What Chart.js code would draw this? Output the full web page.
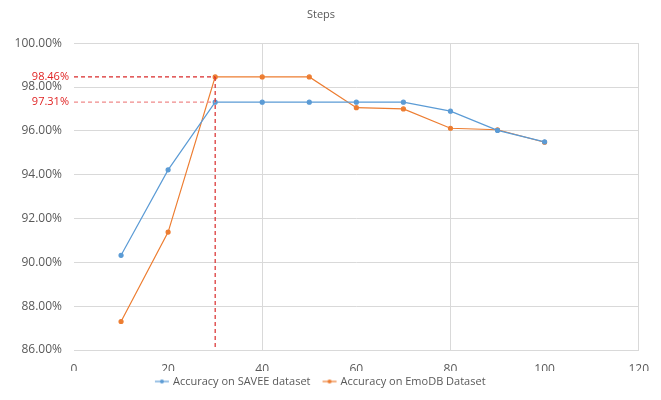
<!DOCTYPE html>
<html lang="en">
<head>
  <meta charset="UTF-8" />
  <title>Steps</title>
  <script src="https://cdn.jsdelivr.net/npm/chart.js"></script>
  <style>
    html, body { margin: 0; padding: 0; background: #fff; }
    #wrap { width: 661px; height: 400px; position: relative; }
  </style>
</head>
<body>
  <div id="wrap"><canvas id="grafico"></canvas></div>

  <script>
    const steps = [10, 20, 30, 40, 50, 60, 70, 80, 90, 100];
    const saveeAcc = [90.32, 94.22, 97.31, 97.31, 97.31, 97.31, 97.31, 96.90, 96.02, 95.50];
    const emodbAcc = [87.30, 91.38, 98.46, 98.46, 98.46, 97.06, 97.00, 96.12, 96.05, 95.48];
    const seriesNames = ['Accuracy on SAVEE dataset', 'Accuracy on EmoDB Dataset'];
    const marks = [
      { step: 30, value: 98.46, label: '98.46%' },
      { step: 30, value: 97.31, label: '97.31%' }
    ];

    const azul = '#5B9BD5';
    const naranja = '#ED7D31';
    const fuente = "'Open Sans', sans-serif";

    function icono(color) {
      const c = document.createElement('canvas');
      c.width = 16; c.height = 8;
      const ctx = c.getContext('2d');
      ctx.strokeStyle = color; ctx.lineWidth = 1.2;
      ctx.beginPath(); ctx.moveTo(1, 4); ctx.lineTo(15, 4); ctx.stroke();
      ctx.fillStyle = color;
      ctx.beginPath(); ctx.arc(8, 4, 2, 0, Math.PI * 2); ctx.fill();
      return c;
    }

    const marcas = {
      id: 'marcas',
      afterDatasetsDraw(chart) {
        const { ctx, scales: { x, y } } = chart;
        ctx.save();
        marks.forEach((m, i) => {
          const px = x.getPixelForValue(m.step);
          const py = y.getPixelForValue(m.value);
          ctx.setLineDash([4, 3]);
          ctx.lineWidth = 1.2;
          ctx.strokeStyle = i === 0 ? '#d92b2b' : '#ef8a8a';
          ctx.beginPath(); ctx.moveTo(x.left, py); ctx.lineTo(px, py); ctx.stroke();
          if (i === 0) {
            ctx.beginPath(); ctx.moveTo(px, py); ctx.lineTo(px, y.bottom); ctx.stroke();
          }
          ctx.setLineDash([]);
          ctx.fillStyle = '#e02424';
          ctx.font = '11px ' + fuente;
          ctx.textAlign = 'right';
          ctx.textBaseline = 'middle';
          ctx.fillText(m.label, x.left - 5, py);
        });
        ctx.restore();
      }
    };

    new Chart(document.getElementById('grafico'), {
      type: 'line',
      data: {
        datasets: [
          {
            label: seriesNames[0],
            data: steps.map((s, i) => ({ x: s, y: saveeAcc[i] })),
            borderColor: azul,
            backgroundColor: azul,
            borderWidth: 1.2,
            pointRadius: 2,
            pointStyle: 'circle',
            pointHoverRadius: 2
          },
          {
            label: seriesNames[1],
            data: steps.map((s, i) => ({ x: s, y: emodbAcc[i] })),
            borderColor: naranja,
            backgroundColor: naranja,
            borderWidth: 1.2,
            pointRadius: 2,
            pointStyle: 'circle',
            pointHoverRadius: 2
          }
        ]
      },
      options: {
        responsive: true,
        maintainAspectRatio: false,
        animation: false,
        layout: { padding: { left: 0, right: 19, top: 6, bottom: 3 } },
        plugins: {
          title: {
            display: true,
            text: 'Steps',
            color: '#595959',
            font: { family: fuente, size: 11, weight: 'normal' },
            padding: { top: 2, bottom: 22 }
          },
          legend: {
            position: 'bottom',
            labels: {
              color: '#595959',
              font: { family: fuente, size: 11 },
              usePointStyle: true,
              boxWidth: 16,
              boxHeight: 8,
              padding: 5,
              generateLabels(chart) {
                return chart.data.datasets.map((d, i) => ({
                  text: i === 0 ? d.label + '   ' : d.label,
                  pointStyle: icono(d.borderColor),
                  fillStyle: d.borderColor,
                  strokeStyle: d.borderColor,
                  fontColor: '#595959',
                  lineWidth: 0,
                  datasetIndex: i,
                  hidden: false
                }));
              }
            }
          },
          tooltip: { enabled: false }
        },
        scales: {
          x: {
            type: 'linear',
            min: 0,
            max: 120,
            ticks: { stepSize: 20, color: '#595959', font: { family: fuente, size: 12 }, padding: 12 },
            grid: {
              color: c => (c.tick && c.tick.value % 40 === 0 && c.tick.value !== 0) ? '#d9d9d9' : 'rgba(0,0,0,0)',
              drawTicks: false
            },
            border: { color: '#d9d9d9' },
            afterFit(scale) { scale.height = 21; }
          },
          y: {
            min: 86,
            max: 100,
            ticks: {
              stepSize: 2,
              color: '#595959',
              font: { family: fuente, size: 12 },
              padding: 12,
              callback: v => v.toFixed(2) + '%'
            },
            grid: { color: '#d9d9d9', drawTicks: false },
            border: { display: false },
            afterFit(scale) { scale.width = 74; }
          }
        }
      },
      plugins: [marcas]
    });
  </script>
</body>
</html>
